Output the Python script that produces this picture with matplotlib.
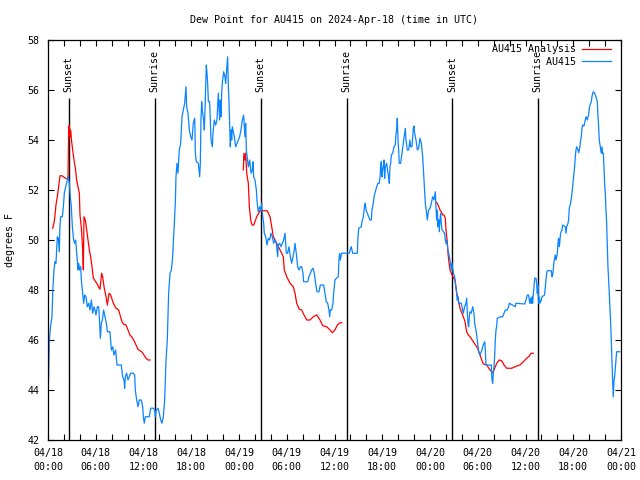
import matplotlib
matplotlib.use("Agg")
import matplotlib.pyplot as plt

# hours after 2024-04-18 00:00 UTC, dew point in degrees F
title = "Dew Point for AU415 on 2024-Apr-18 (time in UTC)"
y_label = "degrees F"

obs_hours = [
    0, 0.08, 0.17, 0.34, 0.5, 0.59, 0.75, 0.88, 1.0, 1.17, 1.3, 1.42, 1.5, 1.59, 1.8, 1.93,
    2.05, 2.22, 2.43, 2.55, 2.68, 2.8, 2.93, 3.06, 3.22, 3.35, 3.48, 3.6, 3.69, 3.77, 3.85,
    3.98, 4.1, 4.19, 4.36, 4.48, 4.61, 4.77, 4.94, 5.11, 5.28, 5.45, 5.61, 5.78, 5.91, 6.03,
    6.2, 6.37, 6.49, 6.58, 6.7, 6.83, 6.99, 7.16, 7.33, 7.46, 7.79, 7.96, 8.13, 8.29, 8.5,
    8.67, 9.21, 9.38, 9.55, 9.63, 9.72, 9.88, 10.05, 10.22, 10.39, 10.72, 10.89, 10.97,
    11.14, 11.31, 11.48, 11.73, 11.9, 11.98, 12.1, 12.23, 12.73, 12.9, 13.24, 13.4, 13.49,
    13.61, 13.82, 13.99, 14.16, 14.32, 14.49, 14.66, 14.83, 14.99, 15.16, 15.33, 15.5,
    15.66, 15.83, 16.0, 16.08, 16.21, 16.33, 16.5, 16.67, 16.84, 17.0, 17.17, 17.34, 17.42,
    17.59, 17.76, 17.93, 18.09, 18.26, 18.43,
    18.47, 18.51, 18.64, 18.89, 19.06, 19.14, 19.22, 19.31, 19.39, 19.56, 19.64, 19.73,
    19.81, 19.89, 19.98, 20.06, 20.15, 20.31, 20.4, 20.48, 20.65, 20.73, 20.9, 21.07, 21.23,
    21.4, 21.49, 21.57, 21.65, 21.74, 21.82, 21.9, 22.07, 22.24, 22.32, 22.41, 22.57, 22.66,
    22.74, 22.83, 22.91, 23.0, 23.08, 23.16, 23.24, 23.41, 23.58, 23.75, 23.92, 24.08, 24.25,
    24.42, 24.58, 24.67, 24.75, 24.84, 24.92, 25.0, 25.17, 25.34, 25.51, 25.67, 25.76, 25.84,
    26.01, 26.18, 26.26, 26.34, 26.43, 26.6, 26.76, 26.85, 26.93, 27.1, 27.18, 27.35, 27.52,
    27.68, 27.85, 28.02, 28.19, 28.35, 28.52, 28.69, 28.86, 28.94, 29.11, 29.28, 29.44,
    29.61, 29.78, 29.86, 29.95, 30.11, 30.28, 30.45, 30.62, 30.78, 30.95, 31.03, 31.2, 31.37,
    31.54, 31.7, 31.87, 32.04, 32.12, 32.63, 32.79, 32.96, 33.13, 33.3, 33.46, 33.63, 33.8,
    34.05, 34.22, 34.64, 34.8, 34.97, 35.14, 35.31, 35.39, 35.47, 35.64, 35.81, 35.89, 35.98,
    36.06, 36.23, 36.48, 36.56, 36.65, 36.73, 36.9,
    37.86, 38.03, 38.11, 38.2, 38.28, 38.87, 38.95, 39.04, 39.37, 39.45, 39.62, 39.71, 39.79,
    39.87, 39.96, 40.12, 40.29, 40.46, 40.63, 40.71, 40.88, 40.96, 41.13, 41.3, 41.46, 41.63,
    41.72, 41.8, 41.88, 41.97, 42.05, 42.13, 42.22, 42.3, 42.39, 42.55, 42.72, 42.8, 42.89,
    42.97, 43.06, 43.14, 43.31, 43.47, 43.64, 43.73, 43.81, 43.89, 43.98, 44.06, 44.14,
    44.31, 44.48, 44.65, 44.81, 44.9, 44.98, 45.15, 45.32, 45.48, 45.57, 45.74, 45.9, 45.99,
    46.07, 46.24, 46.41, 46.57, 46.74, 46.91, 47.08, 47.24, 47.41, 47.58, 47.66, 47.83, 48.0,
    48.17, 48.33, 48.5, 48.67, 48.75, 48.84, 48.92, 49.0, 49.09, 49.17, 49.25, 49.34, 49.42,
    49.51, 49.84, 49.92, 50.01, 50.09, 50.26, 50.34, 50.51, 50.68, 50.76, 50.93, 51.1, 51.18,
    51.26, 51.35, 51.43, 51.52, 51.6, 51.93, 52.02, 52.19, 52.35, 52.52, 52.6, 52.69, 52.77,
    52.86, 52.94, 53.02, 53.19, 53.36, 53.53, 53.61, 53.78, 53.94, 54.03, 54.11, 54.28,
    54.53, 54.62, 54.78, 54.87, 54.95, 55.03, 55.7, 55.79, 55.87, 55.96, 56.04, 56.12, 56.21,
    56.29, 56.37, 56.46, 56.88, 57.13, 57.3, 57.46, 57.71, 57.88, 57.97, 58.72, 58.8, 59.89,
    60.06, 60.23, 60.39, 60.48, 60.56, 60.65, 60.73, 60.81, 60.9, 60.98, 61.06, 61.15, 61.32,
    61.4, 61.48, 61.57, 61.65, 61.73, 61.82, 61.99, 62.07, 62.4, 62.49, 62.57, 62.66, 62.74,
    63.24, 63.33, 63.41, 63.49, 63.58, 63.74, 63.83, 63.91, 64.0, 64.08, 64.16, 64.25, 64.33,
    64.41, 64.58, 64.67, 65.0, 65.09, 65.17, 65.34, 65.42, 65.5, 65.67, 65.84, 65.92, 66.01,
    66.09, 66.17, 66.26, 66.34, 66.43, 66.59, 66.68, 66.84, 66.93, 67.01, 67.1, 67.18, 67.35,
    67.51, 67.6, 67.77, 67.85, 67.93, 68.02, 68.1, 68.27, 68.35, 68.44, 68.52, 68.69, 68.85,
    69.02, 69.11, 69.19, 69.27, 69.36, 69.44, 69.52, 69.61, 69.69, 69.78, 69.86, 69.94,
    70.03, 70.11, 70.19, 70.28, 70.36, 70.45, 70.53, 70.61, 70.7, 70.78, 70.87, 70.95, 71.03,
    71.12, 71.2, 71.28, 71.37, 71.45, 71.87,
]
obs_dewpoint = [
    44.0, 44.53, 46.0, 46.6, 46.93, 47.87, 48.8, 49.13, 49.07, 50.13, 50.07, 49.53, 50.53,
    50.93, 50.93, 51.33, 51.87, 52.13, 52.4, 52.53, 52.27, 51.73, 51.33, 50.53, 50.0, 49.87,
    50.0, 49.47, 49.13, 48.8, 49.07, 48.8, 48.93, 48.4, 47.87, 47.47, 47.8, 47.73, 47.33,
    47.47, 47.2, 47.6, 47.07, 47.33, 47.2, 47.0, 47.33, 47.33, 46.67, 46.07, 46.67, 46.8,
    47.2, 46.93, 46.67, 46.33, 46.33, 45.6, 45.73, 45.4, 45.6, 45.0, 45.0, 44.53, 44.4,
    44.07, 44.53, 44.67, 44.4, 44.53, 44.67, 44.67, 44.6, 44.0, 43.6, 43.33, 43.6, 43.6,
    43.33, 42.93, 42.67, 42.93, 42.93, 43.27, 43.27, 43.2, 42.93, 43.2, 43.27, 43.07, 42.8,
    42.67, 42.93, 43.6, 45.2, 46.0, 47.87, 48.67, 48.8, 49.33, 50.4, 51.47, 52.53, 53.07,
    52.67, 53.6, 53.87, 54.93, 55.2, 55.47, 56.13, 55.33, 55.07, 54.4, 54.13, 54.0, 54.67,
    54.87,
    54.4, 53.47, 53.13, 53.07, 52.53, 53.07, 54.8, 55.53, 55.2, 54.8, 54.4, 55.2, 56.13,
    57.0, 56.67, 56.27, 55.53, 55.53, 54.8, 54.0, 53.73, 54.27, 54.8, 54.6, 54.8, 55.87,
    55.33, 54.8, 55.6, 54.93, 55.87, 56.27, 56.73, 56.53, 56.27, 56.67, 57.33, 56.13, 55.6,
    54.53, 53.73, 54.4, 54.0, 54.53, 54.4, 54.13, 53.73, 53.87, 54.0, 54.13, 54.4, 54.8,
    55.0, 54.53, 54.13, 54.67, 53.6, 53.4, 52.93, 53.2, 52.67, 52.8, 53.13, 52.53, 52.4,
    52.0, 51.6, 51.33, 51.13, 51.33, 51.2, 51.47, 51.07, 50.67, 50.27, 50.13, 49.8, 50.07,
    50.0, 50.27, 50.13, 49.87, 50.0, 49.87, 49.33, 49.8, 49.87, 49.73, 49.87, 50.0, 50.27,
    49.87, 49.47, 49.47, 49.73, 49.33, 49.07, 49.33, 49.6, 49.87, 49.47, 48.93, 48.8, 48.93,
    48.93, 48.67, 48.33, 48.33, 48.53, 48.67, 48.8, 48.87, 48.67, 48.27, 47.93, 47.93, 48.2,
    48.2, 47.87, 47.53, 47.47, 47.2, 46.93, 47.2, 47.2, 47.47, 47.87, 48.13, 48.4, 48.47,
    48.53, 49.2, 49.47, 49.2, 49.47,
    49.47, 49.67, 49.73, 49.6, 49.47, 49.47, 50.13, 50.47, 50.53, 50.73, 50.93, 51.2, 51.4,
    51.47, 51.2, 51.07, 50.93, 50.8, 50.8, 51.2, 51.47, 51.73, 51.93, 52.13, 52.27, 52.27,
    52.53, 52.93, 53.13, 52.53, 52.8, 52.93, 53.2, 52.47, 52.93, 53.07, 52.67, 52.53, 52.27,
    52.93, 53.07, 53.4, 53.47, 53.73, 53.8, 54.27, 54.4, 54.87, 54.0, 53.6, 53.07, 53.07,
    53.47, 53.87, 54.27, 54.47, 54.0, 53.6, 53.6, 54.0, 53.73, 53.73, 54.47, 54.56, 54.27,
    54.0, 53.6, 53.67, 54.07, 53.87, 53.33, 52.4, 51.47, 51.07, 50.8, 51.2, 51.27, 51.47,
    51.73, 51.6, 51.93, 51.33, 50.8, 51.2, 50.53, 50.8, 50.33, 50.8, 51.07, 50.67, 50.4,
    50.27, 50.0, 49.87, 50.0, 49.6, 49.47, 49.2, 48.8, 49.07, 48.67, 48.53, 48.33, 48.13,
    47.87, 47.6, 47.73, 47.47, 47.47, 47.33, 47.07, 47.33, 47.47, 47.67, 47.07, 46.67, 46.53,
    46.93, 47.13, 47.07, 47.33, 47.07, 46.67, 46.4, 46.0, 45.73, 45.53, 45.4,
    45.6, 45.73, 45.87, 45.93, 45.6, 45.0, 45.0, 44.4, 44.27, 44.67, 44.93, 45.33, 46.0,
    46.4, 46.53, 46.87, 46.93, 46.93, 47.07, 47.2, 47.2, 47.33, 47.47, 47.33, 47.47, 47.44,
    47.6, 47.8, 47.8, 47.6, 47.47, 47.67, 47.47, 47.73, 47.47, 47.87, 48.07, 48.47, 48.47,
    48.27, 47.87, 48.2, 47.47, 47.73, 47.47, 47.6, 47.73, 47.8, 48.13, 48.4, 48.67, 48.77,
    48.77, 48.53, 48.6, 48.8, 49.13, 49.4, 49.2, 49.33, 49.47, 49.87, 50.07, 49.73, 50.0,
    50.27, 50.4, 50.6, 50.53, 50.27, 50.53, 50.67, 50.8, 51.27, 51.47, 51.87, 52.13, 52.4,
    52.67, 52.93, 53.33, 53.6, 53.73, 53.6, 53.49, 53.73, 54.0, 54.13, 54.47, 54.6, 54.56,
    54.8, 54.93, 54.8, 54.93, 55.0, 55.27, 55.4, 55.53, 55.73, 55.87, 55.93, 55.87, 55.73,
    55.53, 54.93, 54.53, 54.0, 53.8, 53.6, 53.47, 53.73, 53.47, 53.47, 52.93, 52.27,
    51.87, 51.2, 50.73, 49.73, 48.93, 48.4, 47.87, 47.33, 46.67, 46.0, 45.07, 44.4, 43.73,
    44.4, 44.53, 44.87, 45.2, 45.53, 45.53,
]

# analysis runs (three separate pieces)
ana1_hours = [
    0.59, 0.75, 0.88, 1.0, 1.17, 1.34, 1.51, 1.76, 2.18, 2.51, 2.6, 2.68, 2.76, 2.85, 2.97,
    3.1, 3.27, 3.44, 3.6, 3.77, 3.94, 4.02, 4.19, 4.36, 4.44, 4.52, 4.69, 4.86, 5.03, 5.19,
    5.36, 5.53, 5.7, 6.12, 6.53, 6.74, 6.87, 7.04, 7.29, 7.46, 7.67, 7.87, 8.21, 8.54, 8.88,
    9.05, 9.3, 9.47, 9.8, 10.05, 10.3, 10.56, 10.81, 11.06, 11.31, 11.56, 11.81, 12.06,
    12.32, 12.57, 12.82,
]
ana1_dewpoint = [
    50.47, 50.67, 51.0, 51.4, 51.73, 52.13, 52.57, 52.57, 52.47, 52.43, 54.5, 54.6, 54.13,
    54.4, 53.93, 53.6, 53.2, 52.87, 52.4, 52.13, 51.87, 51.0, 50.5, 49.6, 48.8, 50.93, 50.8,
    50.4, 50.0, 49.6, 49.33, 48.93, 48.47, 48.27, 48.03, 48.67, 48.53, 48.13, 47.73, 47.4,
    47.87, 47.8, 47.47, 47.27, 47.2, 47.0, 46.73, 46.64, 46.6, 46.4, 46.2, 46.11, 45.97,
    45.8, 45.63, 45.57, 45.52, 45.4, 45.27, 45.2, 45.2,
]
ana2_hours = [
    24.54, 24.62, 24.75, 24.83, 24.97, 25.17, 25.3, 25.47, 25.64, 25.85, 26.23, 26.64,
    27.55, 27.9, 28.11, 28.31, 28.74, 29.16, 29.57, 29.69, 30.0, 30.41, 30.82, 31.04, 31.25,
    31.58, 31.88, 32.17, 32.51, 32.92, 33.34, 33.76, 34.18, 34.52, 35.02, 35.44, 35.73,
    36.06, 36.35, 36.69, 36.91,
]
ana2_dewpoint = [
    52.8, 53.47, 53.2, 53.47, 52.67, 52.27, 51.33, 50.8, 50.6, 50.6, 50.93, 51.17, 51.17,
    50.93, 50.53, 50.13, 49.87, 49.6, 49.33, 48.8, 48.53, 48.27, 48.13, 47.87, 47.47, 47.23,
    47.2, 47.0, 46.8, 46.8, 46.93, 47.0, 46.8, 46.57, 46.53, 46.4, 46.29, 46.4, 46.6, 46.69,
    46.69,
]
ana3_hours = [
    48.76, 48.92, 49.1, 49.26, 49.42, 49.6, 49.76, 49.92, 50.01, 50.1, 50.18, 50.26, 50.35,
    50.52, 50.68, 50.93, 51.14, 51.36, 51.56, 51.77, 52.19, 52.4, 52.61, 52.81, 53.03,
    53.44, 53.87, 54.07, 54.5, 54.7, 55.13, 55.54, 55.88, 56.13, 56.38, 56.71, 57.01, 57.3,
    57.64, 58.27, 58.9, 59.31, 59.73, 60.15, 60.48, 60.69, 60.98,
]
ana3_dewpoint = [
    51.51, 51.47, 51.33, 51.2, 51.13, 51.0, 51.0, 50.87, 50.4, 50.13, 49.87, 49.47, 49.2,
    48.8, 48.67, 48.5, 48.4, 47.87, 47.6, 47.27, 46.93, 46.73, 46.33, 46.2, 46.13, 45.93,
    45.73, 45.6, 45.2, 45.04, 45.0, 44.8, 44.69, 44.87, 45.07, 45.2, 45.17, 45.0, 44.87,
    44.87, 44.96, 45.0, 45.13, 45.27, 45.36, 45.47, 45.47,
]

sunset_hours = [2.58, 26.74, 50.82]
sunrise_hours = [13.42, 37.55, 61.55]
event_line_top = 55.67
event_text_y = 55.93

x_ticks = [0, 6, 12, 18, 24, 30, 36, 42, 48, 54, 60, 66, 72]
x_tick_labels = [
    "04/18\n00:00", "04/18\n06:00", "04/18\n12:00", "04/18\n18:00",
    "04/19\n00:00", "04/19\n06:00", "04/19\n12:00", "04/19\n18:00",
    "04/20\n00:00", "04/20\n06:00", "04/20\n12:00", "04/20\n18:00",
    "04/21\n00:00",
]
y_ticks = [42, 44, 46, 48, 50, 52, 54, 56, 58]

plt.rcParams['font.family'] = ['DejaVu Sans Mono']
fs = 7.2

fig = plt.figure(figsize=(6.4, 4.8), dpi=100)
ax = fig.add_axes([48 / 640, 40 / 480, 573 / 640, 400 / 480])

for h in sunset_hours:
    ax.vlines(h, 42, event_line_top, color='black', lw=1.0)
    ax.text(h, event_text_y, "Sunset", rotation=90, ha='center', va='bottom', fontsize=fs)
for h in sunrise_hours:
    ax.vlines(h, 42, event_line_top, color='black', lw=1.0)
    ax.text(h, event_text_y, "Sunrise", rotation=90, ha='center', va='bottom', fontsize=fs)

red = '#ff0000'
blue = '#0a84ff'
ax.plot(ana1_hours, ana1_dewpoint, color=red, lw=0.9, label="AU415 Analysis")
ax.plot(ana2_hours, ana2_dewpoint, color=red, lw=0.9)
ax.plot(ana3_hours, ana3_dewpoint, color=red, lw=0.9)
ax.plot(obs_hours, obs_dewpoint, color=blue, lw=0.9, label="         AU415")

ax.set_xlim(0, 72)
ax.set_ylim(42, 58)
ax.set_xticks(x_ticks)
ax.set_xticklabels(x_tick_labels, fontsize=fs, linespacing=1.4)
ax.set_xticks(range(0, 73, 2), minor=True)
ax.set_yticks(y_ticks)
ax.set_yticklabels([str(v) for v in y_ticks], fontsize=fs)
ax.tick_params(which='both', direction='in', top=True, right=True, length=4.5, width=0.8)
ax.tick_params(axis='x', which='major', pad=6)
ax.tick_params(axis='y', which='major', pad=6)
for s in ax.spines.values():
    s.set_linewidth(0.9)

ax.set_title(title, fontsize=fs, pad=12)
ax.set_ylabel(y_label, fontsize=fs)
ax.yaxis.set_label_coords(-0.058, 0.5)

ax.legend(loc='upper right', bbox_to_anchor=(0.99, 1.0), frameon=False, markerfirst=False,
          fontsize=fs, handlelength=2.9, handletextpad=0.6, borderpad=0,
          borderaxespad=0.45, labelspacing=0.25)

fig.savefig("out.png", dpi=100)
